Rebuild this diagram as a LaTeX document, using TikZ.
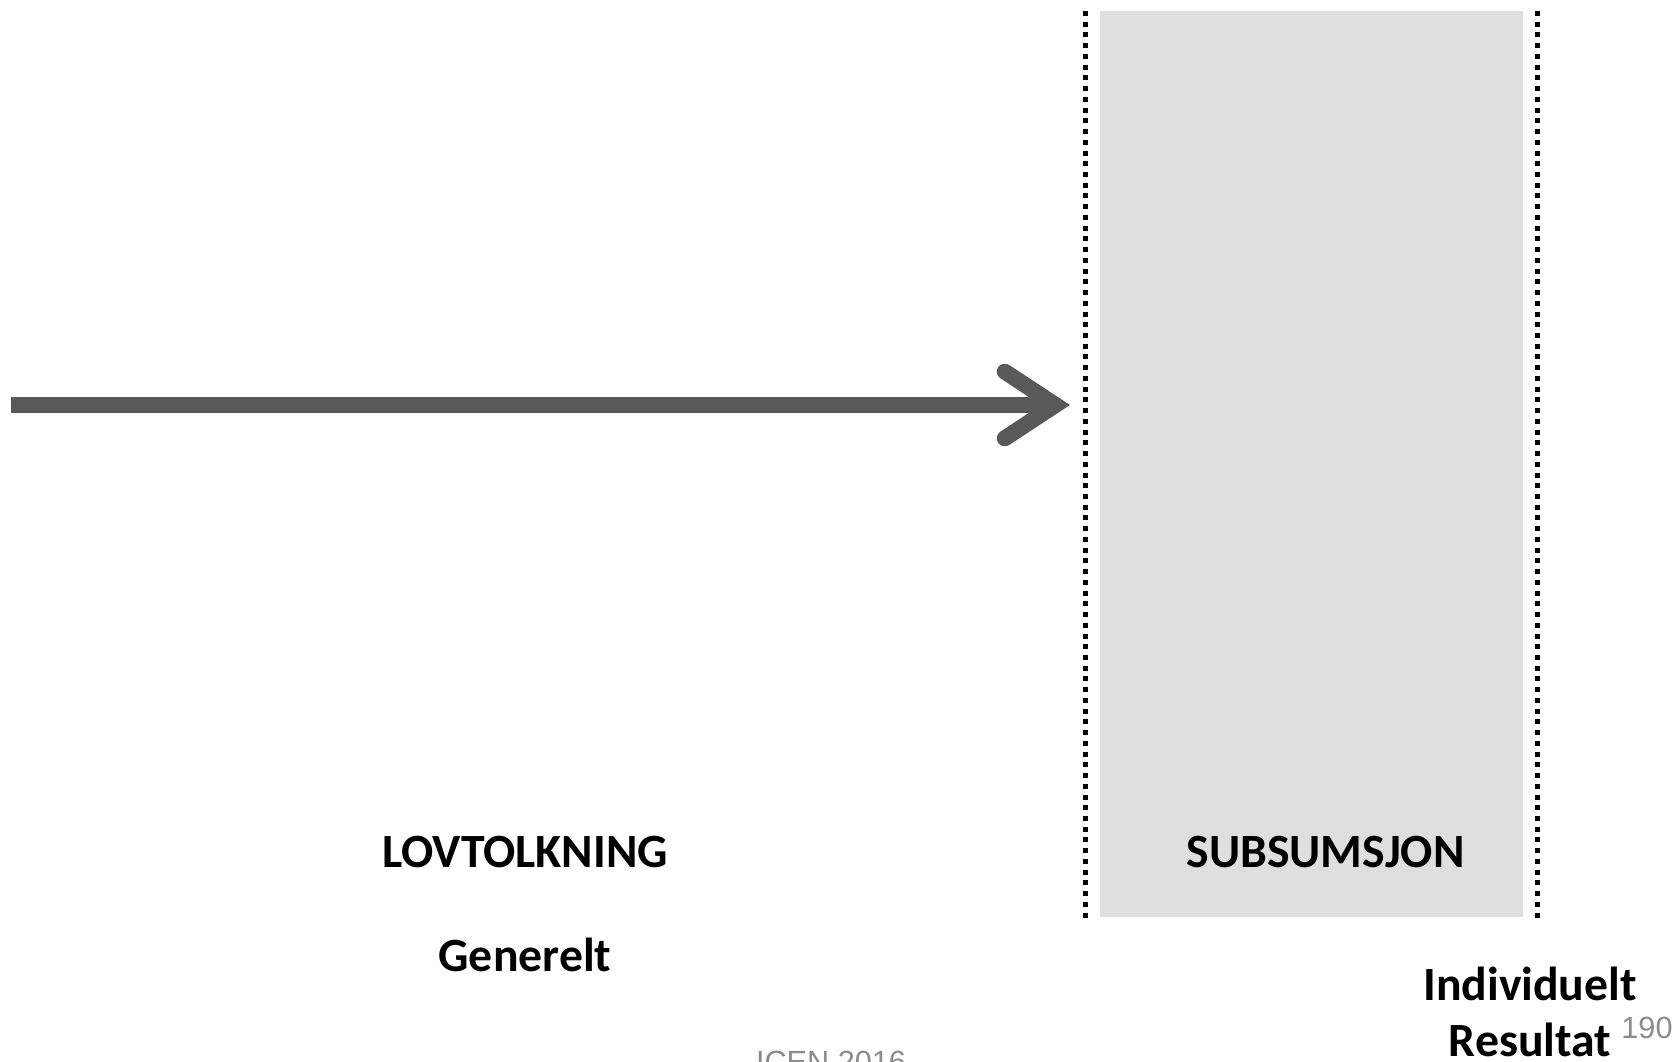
\documentclass[tikz,border=0pt]{standalone}
\usepackage{fontspec}
\setmainfont{Carlito}
\newfontfamily\footfont{Liberation Sans}
\usepackage{xcolor}
\usetikzlibrary{arrows.meta,positioning}
\definecolor{arrowgray}{HTML}{595959}
\definecolor{boxgray}{HTML}{DFDFDF}
\definecolor{footgray}{HTML}{8C8C8C}

\begin{document}
\begin{tikzpicture}[
    x=0.75pt, y=-0.75pt,
    flow/.style={draw=arrowgray, line width=12pt, line cap=butt,
      -{Straight Barb[length=38pt, width=50pt, line join=miter, line cap=round]}},
    dotline/.style={draw=black, line width=3.75pt, dash pattern=on 3.75pt off 4.3pt},
    label/.style={anchor=base, font=\bfseries\fontsize{35.8}{42}\selectfont, inner sep=0pt},
    foot/.style={anchor=base, font=\footfont\fontsize{23}{27}\selectfont, text=footgray, inner sep=0pt}
]
\useasboundingbox (0,0) rectangle (1675,1062);
\clip (0,0) rectangle (1675,1062);
\fill[boxgray] (1100,11) rectangle (1523,917);
\draw[dotline] (1085,11) -- (1085,918);
\draw[dotline] (1537,11) -- (1537,918);
\coordinate (src) at (11,405);
\coordinate (tip) at (1070,405);
\draw[flow] (src) -- (tip);
\node[label] (lov) at (525,867) {LOVTOLKNING};
\node[label] (gen) at (525,971) {Generelt};
\node[label] (sub) at (1325.5,867) {SUBSUMSJON};
\node[label, align=center] (ind) at (1530,1056) {Individuelt\\Resultat};
\node[foot] (page) at (1647,1038) {190};
\node[foot] (conf) at (831,1072) {ICEN 2016};
\end{tikzpicture}
\end{document}
